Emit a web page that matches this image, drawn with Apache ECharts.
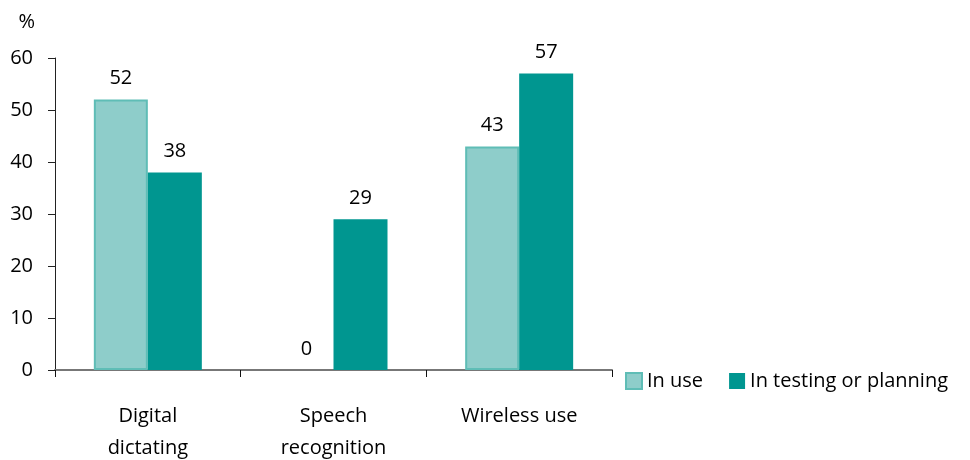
<!DOCTYPE html>
<html>
<head>
<meta charset="utf-8">
<style>
  html, body { margin: 0; padding: 0; background: #fff; }
  #chart { width: 970px; height: 460px; }
</style>
<script src="https://cdn.jsdelivr.net/npm/echarts@6/dist/echarts.min.js"></script>
</head>
<body>
<div id="chart"></div>
<script>
// Technology adoption shares, in percent
const categories = ['Digital\ndictating', 'Speech\nrecognition', 'Wireless use'];
const inUse = [52, 0, 43];
const inTesting = [38, 29, 57];
const seriesNames = ['In use', 'In testing or planning'];
const yTicks = [0, 10, 20, 30, 40, 50, 60];

const FONT = '"Open Sans", "Noto Sans", sans-serif';
const FS = 20;
const chart = echarts.init(document.getElementById('chart'));

const valueLabel = {
  show: true,
  position: 'top',
  distance: 11,
  color: '#000',
  fontSize: FS,
  fontFamily: FONT
};

const lightStyle = { color: '#8ecdca', borderColor: '#5fbdb6', borderWidth: 2 };

chart.setOption({
  animation: false,
  textStyle: { fontFamily: FONT },
  grid: { left: 55, right: 358, top: 58, bottom: 90, containLabel: false, outerBoundsMode: 'none' },
  legend: {
    left: 620,
    top: 366,
    itemWidth: 16,
    itemHeight: 16,
    itemGap: 26,
    icon: 'rect',
    textStyle: { fontSize: FS, color: '#000', fontFamily: FONT },
    data: seriesNames
  },
  xAxis: {
    type: 'category',
    data: categories,
    axisLine: { lineStyle: { color: '#777', width: 2 } },
    axisTick: { show: true, length: 7, lineStyle: { color: '#111', width: 1 } },
    axisLabel: {
      fontSize: FS,
      color: '#000',
      margin: 30,
      lineHeight: 32,
      fontFamily: FONT
    }
  },
  yAxis: {
    type: 'value',
    min: yTicks[0],
    max: yTicks[yTicks.length - 1],
    interval: 10,
    name: '%',
    nameLocation: 'end',
    nameGap: 26,
    nameTextStyle: { fontSize: FS, color: '#000', align: 'right', padding: [0, 20, 0, 0] },
    axisLine: { show: true, lineStyle: { color: '#222', width: 1 } },
    axisTick: { show: true, length: 7, lineStyle: { color: '#222' } },
    splitLine: { show: false },
    axisLabel: { fontSize: FS, color: '#000', margin: 22, fontFamily: FONT }
  },
  series: [
    {
      name: seriesNames[0],
      type: 'bar',
      // a zero-height bar gets no outline
      data: inUse.map(v => v === 0 ? { value: v, itemStyle: { borderWidth: 0 } } : v),
      barWidth: 54,
      barGap: '0%',
      itemStyle: lightStyle,
      label: valueLabel
    },
    {
      name: seriesNames[1],
      type: 'bar',
      data: inTesting,
      barWidth: 54,
      itemStyle: { color: '#009690' },
      label: valueLabel
    }
  ]
});
</script>
</body>
</html>
